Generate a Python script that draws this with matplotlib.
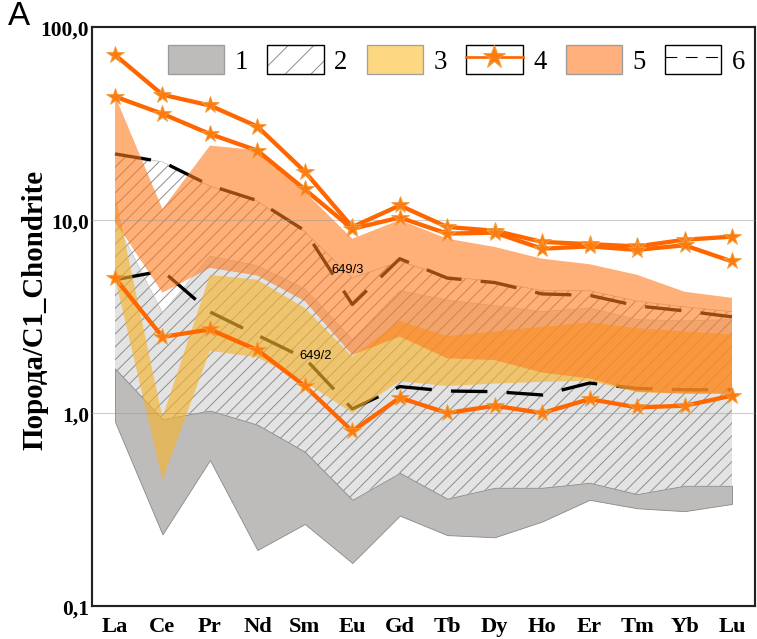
import numpy as np
import matplotlib
matplotlib.use('Agg')
import matplotlib.pyplot as plt
from matplotlib.patches import Patch
from matplotlib.lines import Line2D
from matplotlib.font_manager import FontProperties

# ---------------- data ----------------
elements = ['La', 'Ce', 'Pr', 'Nd', 'Sm', 'Eu', 'Gd', 'Tb', 'Dy', 'Ho', 'Er', 'Tm', 'Yb', 'Lu']

# field 1 (grey)
gray_low = [0.90, 0.235, 0.57, 0.195, 0.266, 0.167, 0.294, 0.233, 0.227, 0.274, 0.355, 0.321, 0.31, 0.338]
gray_high = [1.70, 0.93, 1.03, 0.87, 0.63, 0.355, 0.49, 0.36, 0.41, 0.41, 0.435, 0.38, 0.42, 0.42]
# field 2 (hatched): light-grey part and full hatched extent
lg_high = [10.0, 3.3, 6.5, 5.8, 4.4, 2.4, 4.3, 3.85, 3.6, 3.35, 3.5, 3.05, 3.0, 3.05]
hatch_high = [22.0, 20.0, 15.0, 12.5, 8.7, 5.0, 6.1, 5.1, 4.8, 4.3, 4.3, 3.8, 3.55, 3.35]
# field 3 (yellow)
yellow_low = [5.0, 0.45, 2.1, 1.94, 1.45, 1.0, 1.46, 1.38, 1.42, 1.45, 1.47, 1.28, 1.26, 1.26]
yellow_high = [13.5, 0.95, 5.2, 4.9, 3.5, 1.96, 3.0, 2.5, 2.65, 2.8, 2.95, 2.75, 2.65, 2.55]
# field 5 (orange)
orange_low = [9.8, 4.2, 5.65, 5.15, 3.8, 2.0, 2.49, 1.92, 1.88, 1.62, 1.51, 1.29, 1.26, 1.26]
orange_high = [44.0, 11.4, 24.3, 23.0, 14.0, 8.0, 10.0, 8.0, 7.25, 6.3, 5.9, 5.2, 4.25, 3.95]
# series 4 (orange lines with stars)
line4_a = [71.7, 44.6, 39.2, 30.5, 17.8, 9.2, 11.9, 9.2, 8.8, 7.7, 7.5, 7.3, 7.9, 8.2]
line4_b = [43.6, 35.5, 27.9, 22.9, 14.4, 9.0, 10.3, 8.5, 8.6, 7.1, 7.3, 7.0, 7.4, 6.1]
line4_c = [5.0, 2.48, 2.71, 2.12, 1.38, 0.805, 1.2, 1.0, 1.09, 1.0, 1.18, 1.07, 1.09, 1.23]
# series 6 (dashed samples)
dash_649_3 = [22.0, 20.0, 15.1, 12.6, 8.8, 3.65, 6.3, 5.0, 4.74, 4.14, 4.07, 3.59, 3.38, 3.15]
dash_649_2 = [4.9, 5.45, 3.34, 2.53, 1.92, 1.05, 1.37, 1.30, 1.29, 1.24, 1.43, 1.34, 1.32, 1.32]

ytick_vals = [0.1, 1, 10, 100]
ytick_labels = ['0,1', '1,0', '10,0', '100,0']
legend_labels = ['1', '2', '3', '4', '5', '6']

# ---------------- style ----------------
DPI = 77
plt.rcParams['hatch.linewidth'] = 0.9
plt.rcParams['hatch.color'] = '#8c8c8c'
serif = ['Liberation Serif', 'DejaVu Serif']

fig = plt.figure(figsize=(757 / DPI, 640 / DPI), dpi=DPI)
ax = fig.add_axes([92 / 757, 33 / 640, 663 / 757, 579 / 640])
x = np.arange(len(elements))

C_GRAY = '#bebbbb'
C_LG = '#e3e3e3'
C_YEL = '#f5b430'
C_ORA = '#ff7a1e'
C_LINE = '#ff6600'

ax.fill_between(x, gray_high, lg_high, facecolor=C_LG, linewidth=0, zorder=1)
ax.fill_between(x, gray_high, hatch_high, facecolor='none', edgecolor='#8c8c8c',
                hatch='//', linewidth=0, zorder=2)
ax.plot(x, hatch_high, color='#b5b5b5', lw=0.6, zorder=2)
ax.plot(x, lg_high, color='#c4c4c4', lw=0.6, zorder=2)
ax.fill_between(x, gray_low, gray_high, facecolor=C_GRAY, edgecolor='#8a8a8a',
                linewidth=0.8, zorder=3)

for d in (dash_649_3, dash_649_2):
    ln, = ax.plot(x, d, color='black', lw=3.1, zorder=4)
    ln.set_dashes((11, 5.8))

ax.fill_between(x, yellow_low, yellow_high, facecolor=C_YEL, alpha=0.65, linewidth=0, zorder=5)
ax.fill_between(x, orange_low, orange_high, facecolor=C_ORA, alpha=0.6, linewidth=0, zorder=6)

ax.text(4.91, 5.6, '649/3', fontsize=12, family='Liberation Sans', ha='center', va='center', zorder=9)
ax.text(4.235, 1.99, '649/2', fontsize=12, family='Liberation Sans', ha='center', va='center', zorder=9)

for s in (line4_a, line4_b, line4_c):
    ax.plot(x, s, color=C_LINE, lw=4, marker='*', markersize=17,
            markerfacecolor='#ff7b0f', markeredgecolor='#f0a040', markeredgewidth=0.8, zorder=8)

ax.set_yscale('log')
ax.set_ylim(0.1, 100)
ax.set_xlim(-0.485, 13.485)
for v in (1, 10):
    ax.axhline(v, color='#9a9a9a', alpha=0.5, lw=1, zorder=7)

ax.set_xticks(x)
ax.set_xticklabels(elements, fontsize=21, fontweight='bold', family=serif)
ax.set_yticks(ytick_vals)
ax.set_yticklabels(ytick_labels, fontsize=20, fontweight='bold', family=serif)
ax.yaxis.set_minor_locator(matplotlib.ticker.NullLocator())
ax.tick_params(axis='both', length=0)
ax.tick_params(axis='x', pad=9)
ax.tick_params(axis='y', pad=3)
for sp in ax.spines.values():
    sp.set_linewidth(2)
    sp.set_color('#222222')

fig.text(35 / 757, 1 - 310 / 640, 'Порода/C1_Chondrite', rotation=90, ha='center', va='center',
         fontsize=27, fontweight='bold', family=serif)
fig.text(8 / 757, 1 - 1 / 640, 'A', ha='left', va='top', fontsize=31, family='Liberation Sans')

# ---------------- legend ----------------
h1 = Patch(facecolor=C_GRAY, edgecolor='#9a9a9a', lw=1.2)
h2 = (Patch(facecolor='white', edgecolor='#8c8c8c', hatch='/', lw=0),
      Patch(facecolor='none', edgecolor='black', lw=1.3))
h3 = Patch(facecolor='#fdd782', edgecolor='#a0a0a0', lw=1.2)
h4 = (Patch(facecolor='white', edgecolor='black', lw=1.3),
      Line2D([], [], color=C_LINE, lw=2.5, marker='*', markersize=22,
             markerfacecolor='#ff7b0f', markeredgecolor='#f0a040'))
h5 = Patch(facecolor='#ffb07c', edgecolor='#9a9a9a', lw=1.2)
h6 = (Patch(facecolor='white', edgecolor='black', lw=1.3),
      Line2D([], [], color='black', lw=1, dashes=(11, 8)))
leg = ax.legend([h1, h2, h3, h4, h5, h6], legend_labels, ncol=6, frameon=False,
                loc='center left', bbox_to_anchor=(168 / 757, 1 - 60.5 / 640),
                bbox_transform=fig.transFigure, borderpad=0, borderaxespad=0,
                handlelength=2.1, handleheight=1.32, handletextpad=0.4, columnspacing=0.72,
                numpoints=1, prop=FontProperties(family='Liberation Serif', size=25))
leg.set_zorder(10)

fig.savefig('out.png', dpi=DPI)
